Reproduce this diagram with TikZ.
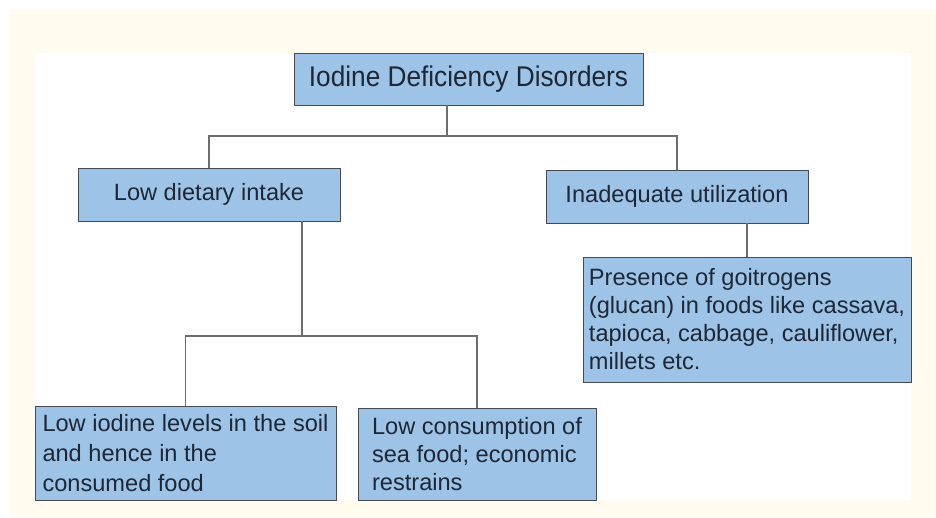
\documentclass[tikz,border=0pt]{standalone}
\usepackage{fontspec}
\setmainfont{Liberation Sans}
\newfontfamily\titlefont[FakeStretch=0.92]{Liberation Sans}
\hyphenpenalty=10000
\definecolor{cream}{HTML}{FFFBEF}
\definecolor{boxfill}{HTML}{9DC3E6}
\definecolor{boxline}{HTML}{454A52}
\definecolor{conn}{HTML}{6E6E6E}
\definecolor{txt}{HTML}{1E2735}
\begin{document}
\begin{tikzpicture}[x=1pt,y=-1pt,
  box/.style={draw=boxline,line width=0.9pt,fill=boxfill,text=txt,
    font=\fontsize{23.6}{28}\selectfont,inner xsep=2pt,inner ysep=2pt},
  lbox/.style={box,align=left},
  link/.style={draw=conn,line width=1.1pt}]
\useasboundingbox (0,0) rectangle (936,517);
\fill[white] (0,0) rectangle (936,517);
\fill[cream] (10,9) rectangle (936,517);
\fill[white] (35,53) rectangle (911,500);
% nodes
\node[box,font=\titlefont\fontsize{28.5}{32}\selectfont,minimum width=349pt,minimum height=52pt] (idd) at (468.5,79) {Iodine Deficiency Disorders};
\node[box,minimum width=262pt,minimum height=53pt] (ldi) at (209,194.5) {Low dietary intake};
\node[box,minimum width=262pt,minimum height=53pt] (inu) at (677,196.5) {Inadequate utilization};
\node[lbox,minimum width=328pt,minimum height=125pt] (pog) at (747,319.5)
  {Presence of goitrogens\\(glucan) in foods like cassava,\\tapioca, cabbage, cauliflower,\\millets etc.};
\node[lbox,font=\fontsize{23.6}{30}\selectfont,minimum width=301pt,minimum height=94pt] (lil) at (185.5,453)
  {Low iodine levels in the soil\\and hence in the\\consumed food};
\node[lbox,minimum width=238pt,minimum height=92pt] (lcs) at (477,454)
  {Low consumption of\\sea food; economic\\restrains};
% junctions
\coordinate (j1) at (447,136);
\coordinate (j2) at (302,336);
\coordinate (a1) at (447,105);
\coordinate (a2) at (302,221);
\coordinate (a3) at (747,223);
% connectors
\draw[link] (a1) -- (j1);
\draw[link] (ldi.north) |- (j1) -| (inu.north);
\draw[link] (a2) -- (j2);
\draw[link] (lil.north) |- (j2) -| (lcs.north);
\draw[link] (a3) -- (pog.north);
\end{tikzpicture}
\end{document}
